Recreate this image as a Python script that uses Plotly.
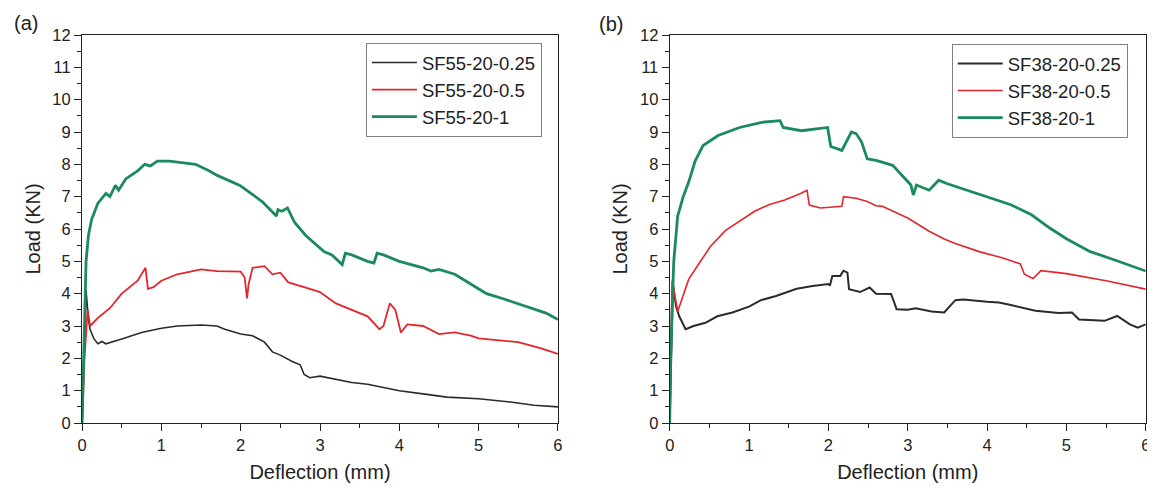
import plotly.graph_objects as go

# ---------------- Panel (a) data ----------------
a_black_x = [0, 0.02, 0.05, 0.08, 0.1, 0.15, 0.2, 0.25, 0.3, 0.5, 0.75, 1.0, 1.2, 1.5, 1.7, 1.8, 1.9, 2.0, 2.15,
             2.3, 2.4, 2.5, 2.65, 2.75, 2.8, 2.87, 3.0, 3.2, 3.4, 3.6, 3.8, 4.0, 4.3, 4.6, 5.0, 5.4, 5.7, 6.0]
a_black_y = [0, 2.0, 4.1, 3.2, 2.9, 2.6, 2.45, 2.52, 2.45, 2.6, 2.8, 2.93, 3.0, 3.03, 3.0, 2.9, 2.82, 2.75, 2.7,
             2.5, 2.2, 2.1, 1.9, 1.8, 1.5, 1.4, 1.45, 1.35, 1.25, 1.2, 1.1, 1.0, 0.9, 0.8, 0.75, 0.65, 0.55, 0.5]

a_red_x = [0, 0.03, 0.07, 0.1, 0.2, 0.35, 0.5, 0.7, 0.8, 0.83, 0.9, 1.0, 1.2, 1.5, 1.7, 2.0, 2.05, 2.08, 2.1, 2.15,
           2.3, 2.4, 2.5, 2.6, 2.8, 3.0, 3.2, 3.4, 3.6, 3.75, 3.8, 3.88, 3.95, 4.02, 4.1, 4.3, 4.5, 4.7, 4.9,
           5.0, 5.5, 5.8, 6.0]
a_red_y = [0, 2.0, 3.5, 3.0, 3.25, 3.55, 4.0, 4.4, 4.8, 4.15, 4.2, 4.4, 4.6, 4.75, 4.7, 4.68, 4.5, 3.85, 4.3, 4.8,
           4.85, 4.6, 4.65, 4.35, 4.2, 4.05, 3.7, 3.5, 3.3, 2.9, 3.0, 3.7, 3.5, 2.8, 3.05, 3.0, 2.75, 2.8, 2.7,
           2.62, 2.5, 2.3, 2.14]

a_green_x = [0, 0.03, 0.05, 0.08, 0.12, 0.2, 0.3, 0.35, 0.42, 0.46, 0.55, 0.7, 0.79, 0.86, 0.95, 1.1, 1.3, 1.43,
             1.6, 1.71, 1.99, 2.27, 2.45, 2.47, 2.52, 2.59, 2.68, 2.82, 3.05, 3.15, 3.28, 3.32, 3.4, 3.6, 3.68,
             3.72, 3.8, 4.0, 4.3, 4.4, 4.5, 4.7, 4.9, 5.1, 5.3, 5.6, 5.85, 6.0]
a_green_y = [0, 3.5, 5.0, 5.8, 6.3, 6.8, 7.1, 7.0, 7.35, 7.2, 7.55, 7.8, 8.0, 7.95, 8.1, 8.1, 8.05, 8.0,
             7.8, 7.65, 7.35, 6.85, 6.4, 6.6, 6.55, 6.65, 6.2, 5.8, 5.3, 5.2, 4.9, 5.25, 5.2, 5.0, 4.95,
             5.25, 5.2, 5.0, 4.8, 4.7, 4.75, 4.6, 4.3, 4.0, 3.85, 3.6, 3.4, 3.2]

# ---------------- Panel (b) data ----------------
b_black_x = [0, 0.02, 0.04, 0.08, 0.12, 0.2, 0.3, 0.45, 0.6, 0.79, 1.0, 1.15, 1.34, 1.6, 1.8, 2.0, 2.02, 2.05,
             2.15, 2.19, 2.24, 2.26, 2.4, 2.52, 2.6, 2.79, 2.86, 3.0, 3.1, 3.3, 3.46, 3.6, 3.7, 4.0, 4.15, 4.3,
             4.61, 4.9, 5.07, 5.16, 5.48, 5.64, 5.8, 5.9, 6.0]
b_black_y = [0, 2.5, 4.3, 3.6, 3.3, 2.9, 3.0, 3.1, 3.3, 3.42, 3.6, 3.8, 3.93, 4.15, 4.24, 4.3, 4.25, 4.55,
             4.55, 4.71, 4.65, 4.14, 4.05, 4.19, 4.0, 3.99, 3.52, 3.5, 3.55, 3.45, 3.42, 3.8, 3.82, 3.75, 3.73, 3.65,
             3.47, 3.4, 3.42, 3.2, 3.16, 3.31, 3.05, 2.95, 3.05]

b_red_x = [0, 0.01, 0.03, 0.1, 0.17, 0.24, 0.38, 0.51, 0.7, 0.79, 1.07, 1.25, 1.45, 1.65, 1.73, 1.76, 1.9, 2.17,
           2.19, 2.35, 2.49, 2.6, 2.68, 3.0, 3.27, 3.46, 3.6, 3.9, 4.2, 4.42, 4.47, 4.58, 4.68, 5.0, 5.5, 6.0]
b_red_y = [0, 2.0, 4.4, 3.45, 3.95, 4.45, 4.97, 5.45, 5.95, 6.1, 6.55, 6.75, 6.9, 7.1, 7.2, 6.74, 6.65, 6.7,
           7.0, 6.95, 6.85, 6.72, 6.7, 6.34, 5.93, 5.69, 5.55, 5.3, 5.1, 4.92, 4.6, 4.47, 4.71, 4.62, 4.4, 4.14]

b_green_x = [0, 0.01, 0.05, 0.08, 0.1, 0.17, 0.24, 0.32, 0.42, 0.61, 0.88, 1.16, 1.39, 1.43, 1.66, 1.99, 2.03,
             2.17, 2.29, 2.35, 2.42, 2.49, 2.6, 2.81, 3.04, 3.07, 3.11, 3.27, 3.39, 3.5, 3.92, 4.3, 4.56, 4.79,
             5.0, 5.3, 5.6, 6.0]
b_green_y = [0, 1.86, 4.97, 5.7, 6.4, 7.0, 7.46, 8.1, 8.58, 8.89, 9.14, 9.3, 9.35, 9.14, 9.04, 9.14, 8.55,
             8.43, 9.0, 8.95, 8.68, 8.17, 8.12, 7.97, 7.36, 7.05, 7.36, 7.2, 7.51, 7.4, 7.05, 6.75, 6.44, 6.03,
             5.7, 5.3, 5.05, 4.7]

names_a = ["SF55-20-0.25", "SF55-20-0.5", "SF55-20-1"]
names_b = ["SF38-20-0.25", "SF38-20-0.5", "SF38-20-1"]
panel_labels = ["(a)", "(b)"]
x_ticks = [0, 1, 2, 3, 4, 5, 6]
y_ticks = list(range(0, 13))

BLACK = "#2b2b2b"
RED = "#e3262c"
GREEN = "#1b8a5c"
AX = "#222222"
FONT = "Liberation Sans, Arial, sans-serif"

fig = go.Figure()
series_a = [(a_black_x, a_black_y, BLACK, 1.6), (a_red_x, a_red_y, RED, 1.8), (a_green_x, a_green_y, GREEN, 2.8)]
series_b = [(b_black_x, b_black_y, BLACK, 2.0), (b_red_x, b_red_y, RED, 1.6), (b_green_x, b_green_y, GREEN, 2.8)]
for (x, y, c, w), n in zip(series_a, names_a):
    fig.add_trace(go.Scatter(x=x, y=y, mode="lines", name=n, line=dict(color=c, width=w),
                             xaxis="x", yaxis="y", legend="legend"))
for (x, y, c, w), n in zip(series_b, names_b):
    fig.add_trace(go.Scatter(x=x, y=y, mode="lines", name=n, line=dict(color=c, width=w),
                             xaxis="x2", yaxis="y2", legend="legend2"))

# page has an 8px body margin: figure pixel = page pixel - 8
OFF = 8
W, H = 1155 - OFF, 488 - OFF
TOP = 35 - OFF          # y=12 line
BOT = 423.3 - OFF       # y=0 line
PH = BOT - TOP


def px_x(p):
    return (p - OFF) / W


def px_y(p):
    return 1 - ((p - OFF) - TOP) / PH


axis_common = dict(showgrid=False, zeroline=False, showline=True, linecolor=AX, linewidth=1.2,
                   mirror=True, ticks="outside", ticklen=7, tickwidth=1.2, tickcolor=AX,
                   tickfont=dict(family=FONT, size=16.5, color=AX))
minor_out = dict(dtick=0.5, ticks="outside", ticklen=4, tickwidth=1.2, tickcolor=AX)
minor_in = dict(dtick=0.5, ticks="inside", ticklen=4, tickwidth=1.2, tickcolor=AX)
xa = dict(axis_common, range=[0, 6], tickvals=x_ticks, minor=minor_out,
          title=dict(text="Deflection (mm)", font=dict(family=FONT, size=20, color=AX), standoff=12))
ya = dict(axis_common, range=[0, 12], tickvals=y_ticks, minor=minor_out,
          title=dict(text="Load (KN)", font=dict(family=FONT, size=20, color=AX), standoff=6))
# mirrored ticks pointing inward (top / right)
xm = dict(range=[0, 6], tickvals=x_ticks, ticks="inside", ticklen=7, tickwidth=1.2, tickcolor=AX,
          showticklabels=False, showgrid=False, zeroline=False, showline=False, minor=minor_in, side="top")
ym = dict(range=[0, 12], tickvals=y_ticks, ticks="inside", ticklen=7, tickwidth=1.2, tickcolor=AX,
          showticklabels=False, showgrid=False, zeroline=False, showline=False, minor=minor_in, side="right")

leg_common = dict(xanchor="left", yanchor="top", bordercolor="#808080", borderwidth=1, bgcolor="white",
                  font=dict(family=FONT, size=18.5, color=AX), tracegroupgap=0, itemwidth=45)

fig.update_layout(
    width=W, height=H,
    margin=dict(l=0, r=0, t=TOP, b=H - BOT),
    paper_bgcolor="white", plot_bgcolor="white",
    xaxis=dict(xa, domain=[px_x(77.7), px_x(557.7)], anchor="y"),
    yaxis=dict(ya, domain=[0, 1], anchor="x"),
    xaxis2=dict(xa, domain=[px_x(670.5), px_x(1150.7)], anchor="y2"),
    yaxis2=dict(ya, domain=[0, 1], anchor="x2"),
    xaxis3=dict(xm, overlaying="x", anchor="y"),
    yaxis3=dict(ym, overlaying="y", anchor="x"),
    xaxis4=dict(xm, overlaying="x2", anchor="y2"),
    yaxis4=dict(ym, overlaying="y2", anchor="x2"),
    legend=dict(leg_common, x=px_x(364), y=px_y(43)),
    legend2=dict(leg_common, x=px_x(955), y=px_y(44)),
    annotations=[
        dict(text=panel_labels[0], x=px_x(7), y=px_y(23), xref="paper", yref="paper", xanchor="left",
             yanchor="middle", showarrow=False, font=dict(family=FONT, size=20, color=AX)),
        dict(text=panel_labels[1], x=px_x(597), y=px_y(24), xref="paper", yref="paper", xanchor="left",
             yanchor="middle", showarrow=False, font=dict(family=FONT, size=20, color=AX)),
    ],
)

fig.write_html("out.html")
